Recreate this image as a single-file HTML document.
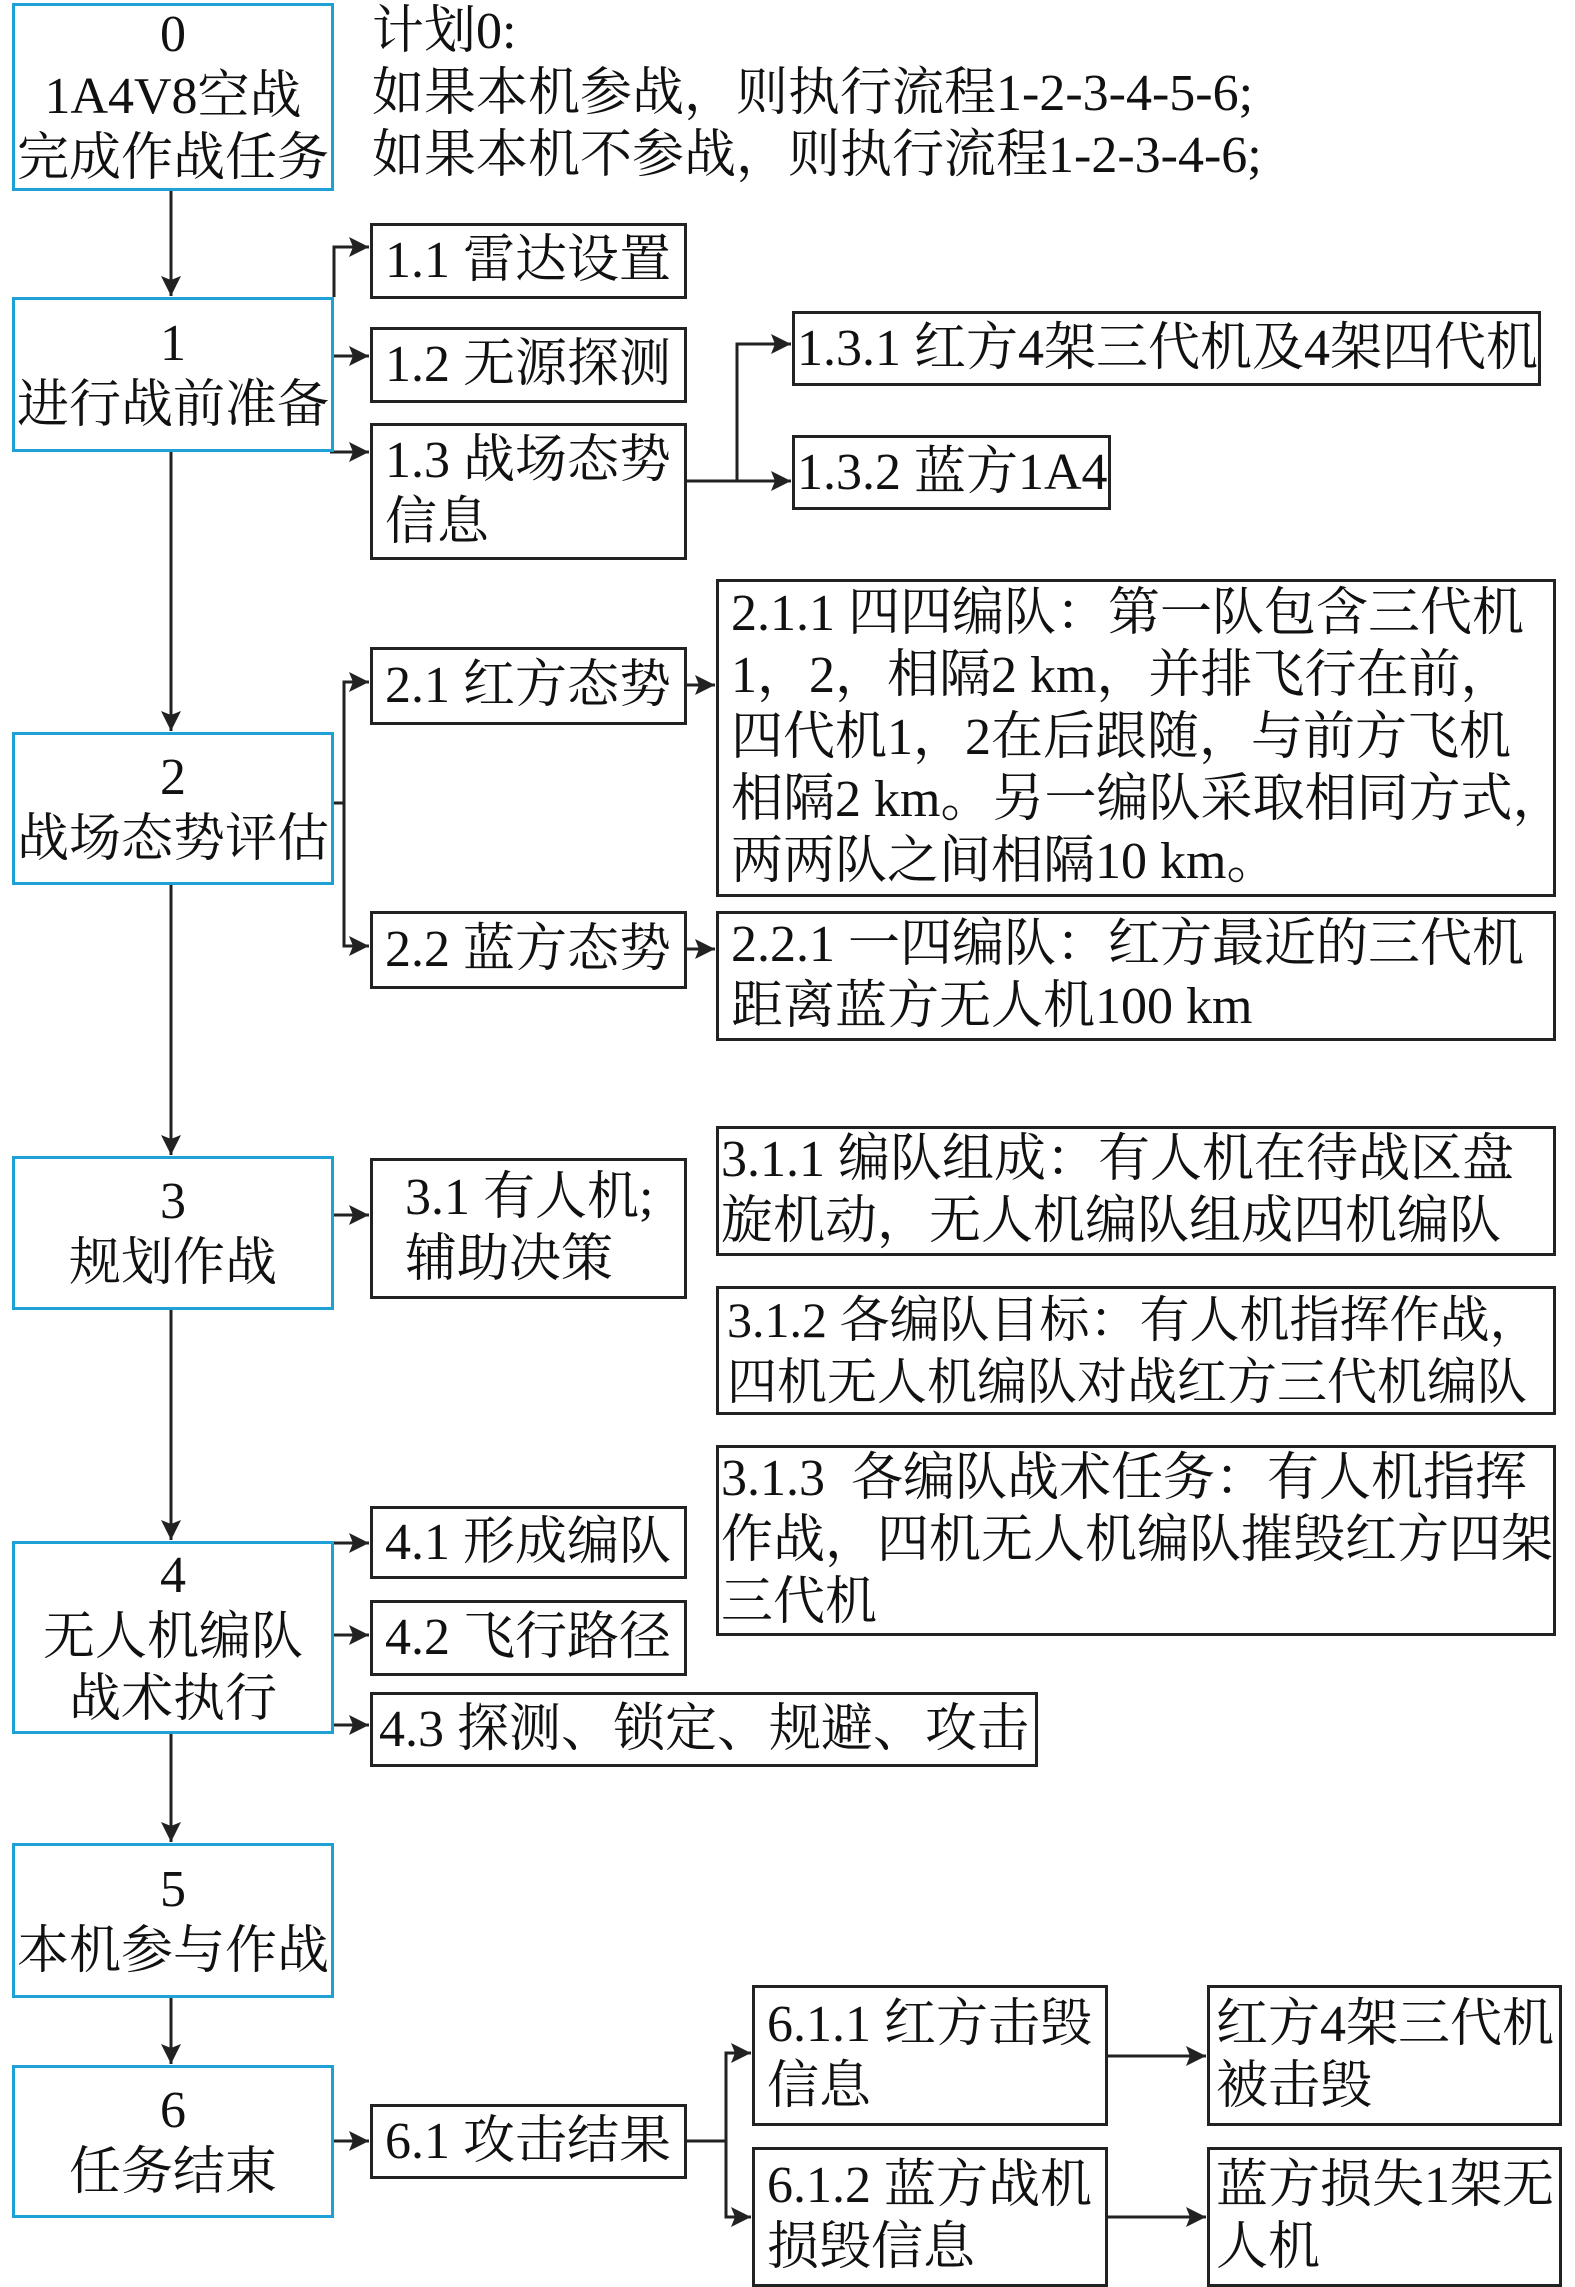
<!DOCTYPE html>
<html><head><meta charset="utf-8"><style>
html,body{margin:0;padding:0;background:#fff;}
body{width:1575px;height:2283px;position:relative;overflow:hidden;font-family:"Liberation Serif","Noto Serif CJK SC",serif;color:#111;}
.b{position:absolute;box-sizing:border-box;border:3px solid #222;display:flex;flex-direction:column;justify-content:center;font-size:52px;line-height:62px;padding-left:12px;white-space:nowrap;overflow:hidden;}
.m{border:3px solid #1ea2d6;align-items:center;padding-left:0;text-align:center;}
.t{position:absolute;font-size:52px;line-height:62px;white-space:nowrap;}
svg{position:absolute;left:0;top:0;}
</style></head><body>
<svg width="1575" height="2283">
<defs>
<marker id="A" viewBox="0 0 10 10" refX="10" refY="5" markerWidth="24" markerHeight="20" orient="auto" markerUnits="userSpaceOnUse"><path d="M0,0 L10,5 L0,10 L2,5 z" fill="#222"/></marker></defs>
<g stroke="#222" stroke-width="3" fill="none" marker-end="url(#A)">
<line x1="171" y1="191" x2="171" y2="296"/>
<line x1="171" y1="452" x2="171" y2="731"/>
<line x1="171" y1="885" x2="171" y2="1155"/>
<line x1="171" y1="1310" x2="171" y2="1540"/>
<line x1="171" y1="1734" x2="171" y2="1842"/>
<line x1="171" y1="1998" x2="171" y2="2064"/>
<polyline points="334,297 334,247 369,247"/>
<line x1="334" y1="356" x2="369" y2="356"/>
<line x1="330" y1="452" x2="369" y2="452"/>
<polyline points="687,481 737,481 737,344 791,344"/>
<line x1="737" y1="481" x2="791" y2="481"/>
<polyline points="334,803 344,803 344,682 369,682"/>
<polyline points="344,803 344,946 369,946"/>
<line x1="687" y1="685" x2="715" y2="685"/>
<line x1="687" y1="949" x2="715" y2="949"/>
<line x1="334" y1="1215" x2="369" y2="1215"/>
<line x1="334" y1="1543" x2="369" y2="1543"/>
<line x1="334" y1="1635" x2="369" y2="1635"/>
<line x1="334" y1="1725" x2="369" y2="1725"/>
<line x1="334" y1="2141" x2="369" y2="2141"/>
<polyline points="687,2141 726,2141 726,2053 751,2053"/>
<polyline points="726,2141 726,2217 751,2217"/>
<line x1="1108" y1="2056" x2="1206" y2="2056"/>
<line x1="1108" y1="2217" x2="1206" y2="2217"/>
</g></svg>
<div class="b m" style="left:12px;top:3px;width:322px;height:188px;">0<br>1A4V8空战<br>完成作战任务</div>
<div class="t" style="left:372px;top:1px;">计划0:<br>如果本机参战，则执行流程1-2-3-4-5-6;<br>如果本机不参战，则执行流程1-2-3-4-6;</div>
<div class="b m" style="left:12px;top:297px;width:322px;height:155px;">1<br>进行战前准备</div>
<div class="b" style="left:370px;top:223px;width:317px;height:76px;">1.1 雷达设置</div>
<div class="b" style="left:370px;top:327px;width:317px;height:76px;">1.2 无源探测</div>
<div class="b" style="left:370px;top:423px;width:317px;height:137px;">1.3 战场态势<br>信息</div>
<div class="b" style="left:792px;top:311px;width:749px;height:75px;padding-left:2px;">1.3.1 红方4架三代机及4架四代机</div>
<div class="b" style="left:792px;top:435px;width:319px;height:75px;padding-left:2px;">1.3.2 蓝方1A4</div>
<div class="b m" style="left:12px;top:732px;width:322px;height:153px;">2<br>战场态势评估</div>
<div class="b" style="left:370px;top:647px;width:317px;height:78px;">2.1 红方态势</div>
<div class="b" style="left:716px;top:579px;width:840px;height:318px;">2.1.1 四四编队：第一队包含三代机<br>1，2，相隔2 km，并排飞行在前，<br>四代机1，2在后跟随，与前方飞机<br>相隔2 km。另一编队采取相同方式，<br>两两队之间相隔10 km。</div>
<div class="b" style="left:370px;top:911px;width:317px;height:78px;">2.2 蓝方态势</div>
<div class="b" style="left:716px;top:911px;width:840px;height:130px;">2.2.1 一四编队：红方最近的三代机<br>距离蓝方无人机100 km</div>
<div class="b m" style="left:12px;top:1156px;width:322px;height:154px;">3<br>规划作战</div>
<div class="b" style="left:370px;top:1158px;width:317px;height:141px;padding-left:32px;">3.1 有人机;<br>辅助决策</div>
<div class="b" style="left:716px;top:1126px;width:840px;height:130px;padding-left:2px;">3.1.1 编队组成：有人机在待战区盘<br>旋机动，无人机编队组成四机编队</div>
<div class="b" style="left:716px;top:1286px;width:840px;height:129px;padding-left:8px;font-size:50px;">3.1.2 各编队目标：有人机指挥作战，<br>四机无人机编队对战红方三代机编队</div>
<div class="b" style="left:716px;top:1445px;width:840px;height:191px;padding-left:2px;justify-content:flex-start;padding-top:0;">3.1.3&nbsp; 各编队战术任务：有人机指挥<br>作战，四机无人机编队摧毁红方四架<br>三代机</div>
<div class="b m" style="left:12px;top:1541px;width:322px;height:193px;">4<br>无人机编队<br>战术执行</div>
<div class="b" style="left:370px;top:1506px;width:317px;height:73px;">4.1 形成编队</div>
<div class="b" style="left:370px;top:1600px;width:317px;height:76px;">4.2 飞行路径</div>
<div class="b" style="left:370px;top:1692px;width:668px;height:75px;padding-left:6px;">4.3 探测、锁定、规避、攻击</div>
<div class="b m" style="left:12px;top:1843px;width:322px;height:155px;">5<br>本机参与作战</div>
<div class="b m" style="left:12px;top:2065px;width:322px;height:153px;">6<br>任务结束</div>
<div class="b" style="left:370px;top:2104px;width:317px;height:75px;">6.1 攻击结果</div>
<div class="b" style="left:752px;top:1985px;width:356px;height:141px;">6.1.1 红方击毁<br>信息</div>
<div class="b" style="left:752px;top:2147px;width:356px;height:140px;">6.1.2 蓝方战机<br>损毁信息</div>
<div class="b" style="left:1207px;top:1985px;width:355px;height:141px;padding-left:6px;">红方4架三代机<br>被击毁</div>
<div class="b" style="left:1207px;top:2147px;width:355px;height:140px;padding-left:6px;">蓝方损失1架无<br>人机</div>
</body></html>
